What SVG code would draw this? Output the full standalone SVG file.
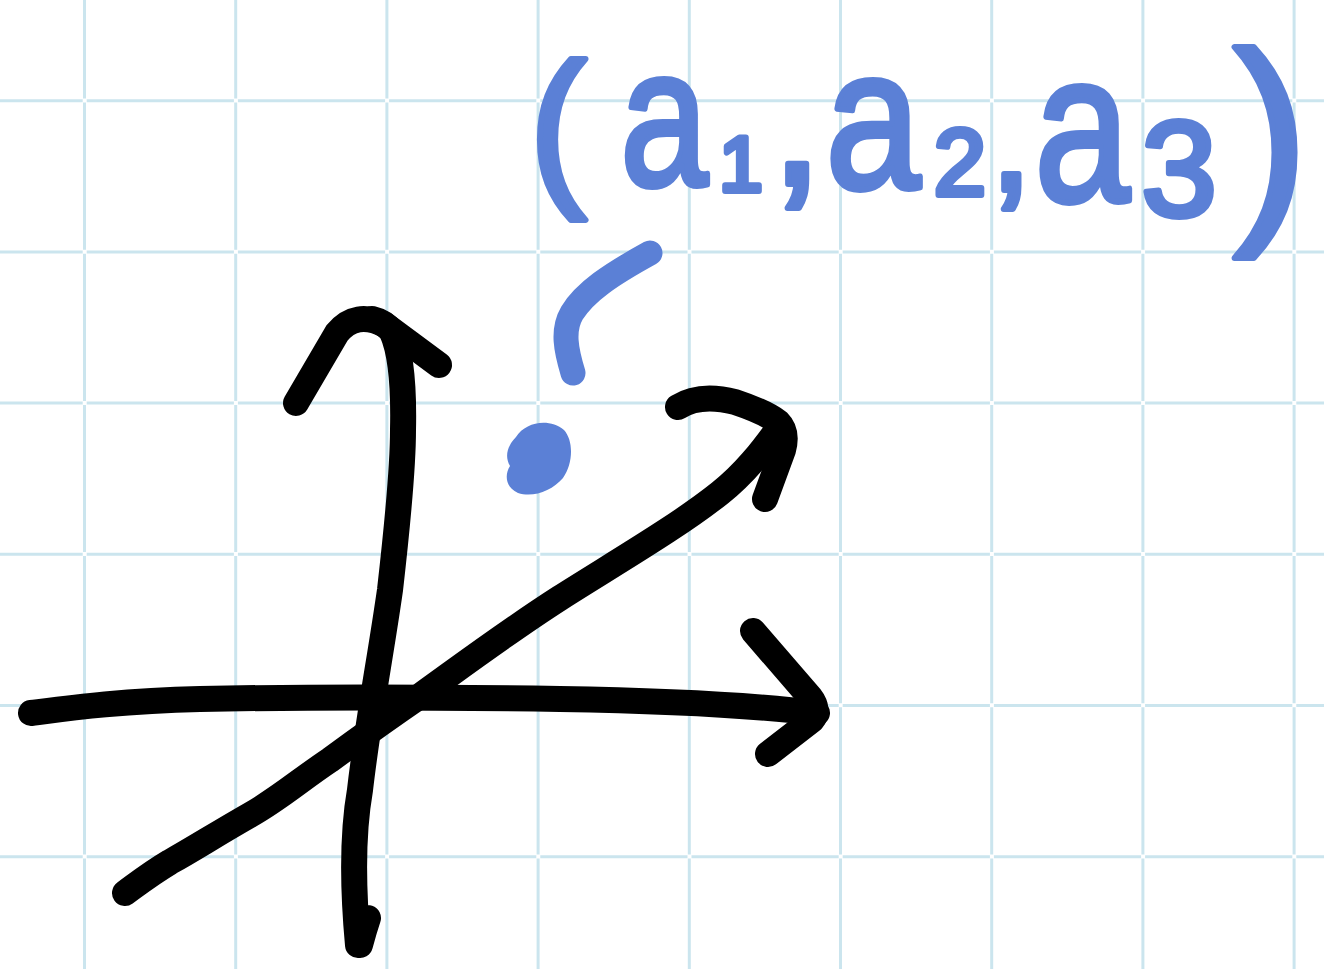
<svg xmlns="http://www.w3.org/2000/svg" width="1324" height="969" viewBox="0 0 1324 969">
<style>
.g{stroke:#cbe5ee;stroke-width:3;fill:none}
.gh{stroke-dasharray:147.2 4;stroke-dashoffset:64.5}
.gv{stroke-dasharray:147.2 4;stroke-dashoffset:48.7}
.ink{stroke:#000;stroke-width:26;fill:none;stroke-linecap:round;stroke-linejoin:round}
.blue{stroke:#5b80d6;stroke-width:25;fill:none;stroke-linecap:round;stroke-linejoin:round}
.lbl{font-family:"Liberation Sans",Arial,sans-serif;fill:#5b80d6;stroke:#5b80d6;stroke-width:6;stroke-linejoin:round;text-anchor:middle}
</style>
<rect width="1324" height="969" fill="#ffffff"/>
<g id="grid">
<line class="g gv" x1="84.5" y1="0" x2="84.5" y2="969"/>
<line class="g gv" x1="235.7" y1="0" x2="235.7" y2="969"/>
<line class="g gv" x1="386.9" y1="0" x2="386.9" y2="969"/>
<line class="g gv" x1="538.1" y1="0" x2="538.1" y2="969"/>
<line class="g gv" x1="689.3" y1="0" x2="689.3" y2="969"/>
<line class="g gv" x1="840.5" y1="0" x2="840.5" y2="969"/>
<line class="g gv" x1="991.7" y1="0" x2="991.7" y2="969"/>
<line class="g gv" x1="1142.9" y1="0" x2="1142.9" y2="969"/>
<line class="g gv" x1="1294.1" y1="0" x2="1294.1" y2="969"/>
<line class="g gh" x1="0" y1="100.7" x2="1324" y2="100.7"/>
<line class="g gh" x1="0" y1="251.9" x2="1324" y2="251.9"/>
<line class="g gh" x1="0" y1="403.1" x2="1324" y2="403.1"/>
<line class="g gh" x1="0" y1="554.3" x2="1324" y2="554.3"/>
<line class="g gh" x1="0" y1="705.5" x2="1324" y2="705.5"/>
<line class="g gh" x1="0" y1="856.7" x2="1324" y2="856.7"/>
</g>
<g id="connectors">
<g id="x-axis">
<path class="ink" d="M31,713 C70,708 120,701 200,699 C300,697 420,697 560,699 C680,701 760,706 817,713"/>
<path class="ink" d="M753,631 L810,697 Q820,710 812,720 L768,754"/>
</g>
<g id="y-axis">
<path class="ink" d="M360,945 Q364,930 368,918 M358,945 C352,880 353,830 360,790 C368,720 380,660 390,590 C398,520 403,470 403,430 C404,385 400,350 392,332 Q385,322 372,319"/>
<path class="ink" d="M296,403 L337,333 Q356,310 385,325 L439,365"/>
</g>
<g id="z-axis">
<path class="ink" d="M125,893 C140,882 150,874 170,862 C195,848 215,835 250,815 C280,798 300,780 330,760 C360,738 385,720 420,696 C470,660 510,630 560,598 C620,560 680,525 720,493 C745,473 762,451 780,426"/>
<path class="ink" d="M678,407 Q700,393 735,402 Q765,412 778,422 Q788,432 783,450 L765,499"/>
</g>
</g>
<g id="point">
<path fill="#5b80d6" d="M516,437 C526,421 550,418 564,430 C574,441 573,464 563,478 C552,491 533,498 518,493 C506,488 504,475 510,466 C504,456 508,445 516,437 Z"/>
<path class="blue" d="M573,373 C566,350 562,330 572,313 C585,292 610,275 650,253"/>
</g>
<g id="label">
<text class="lbl" x="558" y="184" font-size="172">(</text>
<text class="lbl" font-size="196" transform="translate(664,185) scale(0.8,1)">a</text>
<text class="lbl" x="741" y="191" font-size="78">1</text>
<text class="lbl" x="797" y="184" font-size="190">,</text>
<text class="lbl" font-size="200" transform="translate(873,188) scale(0.85,1)">a</text>
<text class="lbl" x="960" y="195" font-size="94">2</text>
<text class="lbl" x="1011" y="190" font-size="150">,</text>
<text class="lbl" font-size="214" transform="translate(1082,201) scale(0.8,1)">a</text>
<text class="lbl" x="1179" y="216" font-size="136">3</text>
<text class="lbl" x="1271" y="211" font-size="226">)</text>
</g>
</svg>
